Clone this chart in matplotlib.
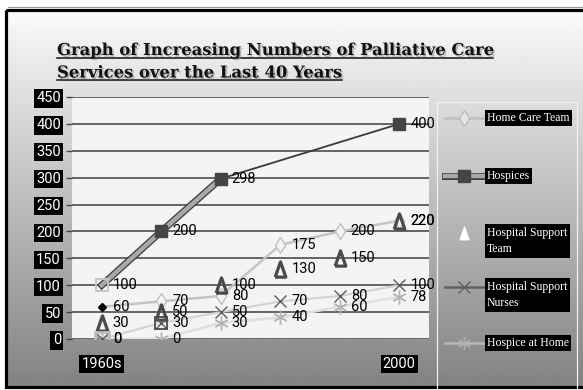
import numpy as np
import matplotlib
matplotlib.use('Agg')
import matplotlib.pyplot as plt
from matplotlib.lines import Line2D
from matplotlib.patches import Rectangle
import matplotlib.patheffects as pe

# ---------------- data ----------------
tick_labels = ['1960s', '', '', '', '', '2000']
home_care = [60, 70, 80, 175, 200, 220]
hospices = [100, 200, 298, np.nan, np.nan, 400]
hosp_team = [30, 50, 100, 130, 150, 220]
hosp_nurses = [0, 30, 50, 70, 80, 100]
hospice_home = [0, 0, 30, 40, 60, 78]
y_ticks = [0, 50, 100, 150, 200, 250, 300, 350, 400, 450]
series_names = ['Home Care Team', 'Hospices', 'Hospital Support\nTeam',
                'Hospital Support\nNurses', 'Hospice at Home']
title_lines = ['Graph of Increasing Numbers of Palliative Care',
               'Services over the Last 40 Years']

W, H = 583, 390
fig = plt.figure(figsize=(W / 100, H / 100), dpi=100, facecolor='white')


def fx(x):
    return x / W


def fy(y):
    return 1 - y / H


NUM_FAMILY = ['Roboto', 'DejaVu Sans']

# ---------------- background ----------------
bg = fig.add_axes([0, 0, 1, 1], zorder=-10)
bg.set_xlim(0, W)
bg.set_ylim(H, 0)
bg.axis('off')
grad = np.linspace(0.98, 0.51, 256).reshape(-1, 1)
bg.imshow(grad, cmap='gray', vmin=0, vmax=1, extent=(5, W + 10, 388, 10),
          aspect='auto', interpolation='bilinear')
bg.add_patch(Rectangle((5.5, 10), W + 20, 377, fill=False, ec='black', lw=2.3))
bg.plot([8, W], [6.5, 6.5], color='#999999', lw=0.8)
# legend panel
bg.add_patch(Rectangle((437, 102), 140, 300, fill=False, ec='#f0f0f0', lw=0.9))

# ---------------- main axes ----------------
ax = fig.add_axes([fx(72), fy(339), fx(429 - 72), (339 - 97) / H])
ax.set_facecolor('#f4f4f4')
ax.set_xlim(-0.5, 5.5)
ax.set_ylim(0, 450)
for s in ax.spines.values():
    s.set_visible(False)
ax.set_yticks(y_ticks)
ax.set_yticklabels([str(v) for v in y_ticks])
ax.set_xticks(range(len(tick_labels)))
ax.set_xticklabels(tick_labels)
ax.yaxis.grid(True, color='#5a5a5a', lw=1.3)
ax.set_axisbelow(True)
ax.tick_params(axis='y', length=4, width=1, color='#444444', pad=4,
               labelcolor='white', labelsize=10.5)
ax.tick_params(axis='x', length=0, pad=13, labelcolor='white', labelsize=10.5)
for lbl in ax.get_yticklabels() + ax.get_xticklabels():
    lbl.set_fontfamily(NUM_FAMILY)
    lbl.set_bbox(dict(boxstyle='square,pad=0.15', fc='black', ec='none'))

x = np.arange(len(tick_labels))

# Home Care Team
ax.plot(x, home_care, color='#c4c4c4', lw=1.8, zorder=2)
ax.plot(x[1:], home_care[1:], ls='none', marker='d', ms=8, mfc='#f4f4f4',
        mec='#c0c0c0', mew=1, zorder=4)
ax.plot(x[:1], home_care[:1], ls='none', marker='D', ms=4.5, color='black', zorder=4)

# Hospices
hx = x[~np.isnan(hospices)]
hy = np.array(hospices)[~np.isnan(hospices)]
ax.plot(hx[:3], hy[:3], color='#a8a8a8', lw=3.2, zorder=3,
        path_effects=[pe.Stroke(linewidth=5, foreground='#3c3c3c'), pe.Normal()])
ax.plot(hx[2:], hy[2:], color='#3a3a3a', lw=1.3, zorder=3)
ax.plot(hx[1:], hy[1:], ls='none', marker='s', ms=9, color='#454545', zorder=5)
ax.plot(hx[:1], hy[:1], ls='none', marker='s', ms=9, mfc='none', mec='#c4c4c4',
        mew=1.3, zorder=5)

# Hospital Support Team
tri = [(-0.7, -1), (0.7, -1), (0, 1), (-0.7, -1)]
ax.plot(x, hosp_team, ls='none', marker=tri, ms=11, mfc='none', mec='#4a4a4a',
        mew=2.3, zorder=5)

# Hospital Support Nurses
ax.plot(x, hosp_nurses, color='#d2d2d2', lw=1.5, zorder=2)
ax.plot(x, hosp_nurses, ls='none', marker='x', ms=9, mec='#5a5a5a', mew=1,
        zorder=5)
ax.plot(x[:1], hosp_nurses[:1], ls='none', marker='s', ms=10, mfc='none',
        mec='#bdbdbd', mew=2, zorder=5)
ax.plot(x[1:2], hosp_nurses[1:2], ls='none', marker='s', ms=9, mfc='none',
        mec='#4a4a4a', mew=1.3, zorder=5)

# Hospice at Home
ax.plot(x, hospice_home, color='#e0e0e0', lw=2, zorder=2)
ax.plot(x, hospice_home, ls='none', marker=(6, 2, 0), ms=10, mec='#b4b4b4',
        mew=1, zorder=4)

# value labels
for series in [home_care, hospices, hosp_team, hosp_nurses, hospice_home]:
    for i, v in enumerate(series):
        if np.isnan(v):
            continue
        ax.annotate(f'{v:g}', (i, v), xytext=(8, 0), textcoords='offset points',
                    va='center', ha='left', fontsize=10.5, color='black',
                    family=NUM_FAMILY, zorder=6, annotation_clip=False)

# ---------------- legend (manual) ----------------
leg_y = [118, 176, 233, 287, 343]
lx0, lx1, lxm = fx(445), fx(484), fx(464)
fig.add_artist(Line2D([lx0, lxm, lx1], [fy(leg_y[0])] * 3, color='#c0c0c0', lw=1.8,
                      marker='d', ms=8, mfc='#e6e6e6', mec='#bdbdbd', markevery=[1]))
fig.add_artist(Line2D([lx0, lxm, lx1], [fy(leg_y[1])] * 3, color='#a8a8a8', lw=3.2,
                      path_effects=[pe.Stroke(linewidth=5, foreground='#3c3c3c'),
                                    pe.Normal()]))
fig.add_artist(Line2D([lxm], [fy(leg_y[1])], ls='none', marker='s', ms=9,
                      color='#454545'))
fig.add_artist(Line2D([lxm], [fy(leg_y[2])], ls='none', marker=tri, ms=9,
                      mfc='white', mec='white'))
fig.add_artist(Line2D([lx0, lxm, lx1], [fy(leg_y[3])] * 3, color='#606060', lw=1.8,
                      marker='x', ms=9, mec='#606060', mew=1, markevery=[1]))
fig.add_artist(Line2D([lx0, lxm, lx1], [fy(leg_y[4])] * 3, color='#b8b8b8', lw=1.8,
                      marker=(6, 2, 0), ms=9, mec='#b0b0b0', mew=1, markevery=[1]))
for name, yy in zip(series_names, leg_y):
    fig.text(fx(487), fy(yy + (8 if '\n' in name else 0)), name, color='white',
             va='center', ha='left', family=['Liberation Serif'], fontsize=8.5,
             linespacing=1.55,
             bbox=dict(boxstyle='square,pad=0.2', fc='black', ec='none'))

# ---------------- title ----------------
title_base = [55, 77.5]
t_objs = []
for line, yb in zip(title_lines, title_base):
    t = fig.text(fx(57), fy(yb), line, ha='left', va='baseline',
                 family=['DejaVu Serif'], weight='bold', fontsize=11.8,
                 color='#111111',
                 path_effects=[pe.withSimplePatchShadow(offset=(1.2, -1.2),
                                                        shadow_rgbFace='#888888',
                                                        alpha=0.6)])
    t_objs.append((t, yb))

fig.canvas.draw()
for t, yb in t_objs:
    bb = t.get_window_extent()
    fig.add_artist(Line2D([bb.x0 / W, bb.x1 / W], [fy(yb + 2.5)] * 2,
                          color='#111111', lw=1.1))

fig.savefig('out.png', dpi=100, facecolor='white')
